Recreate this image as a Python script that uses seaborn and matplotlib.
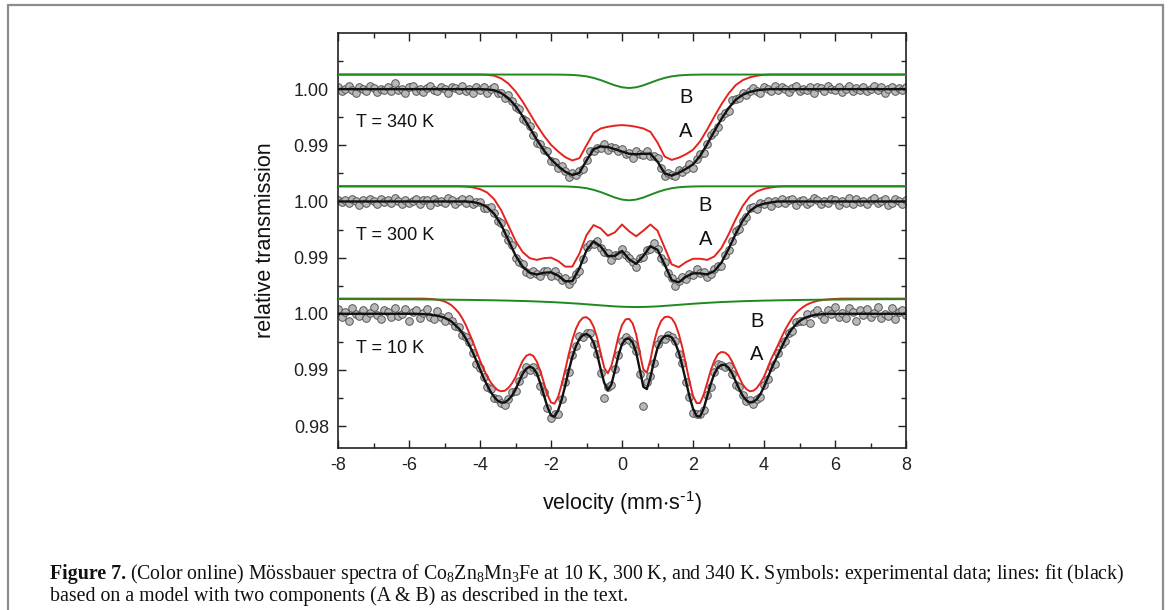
import numpy as np
import matplotlib.pyplot as plt
from matplotlib.patches import Rectangle
from matplotlib.ticker import FixedLocator, FixedFormatter, MultipleLocator
import seaborn as sns

sns.set_theme(style="ticks")
plt.rcParams['font.family'] = ['Liberation Sans', 'DejaVu Sans']
plt.rcParams['mathtext.default'] = 'regular'
plt.rcParams['axes.unicode_minus'] = False

# velocity channels (mm/s): coarse fit grid 0.2, measured points / fine grid 0.1
VEL_FIT = np.linspace(-8, 8, 81)
VEL_DATA = np.linspace(-8, 8, 161)

# all values below: deviation from 1.00 in units of 1e-3

# --- T = 340 K ---
DATA_340K = [
    0.3, -0.4, 0.1, 0.5, -0.2, -0.6, 0.4, 0.0, -0.3, 0.6, 0.2, -0.5, 0.1, -0.1, 0.4, -0.4, 1.1, -0.2, 0.0, -0.6,
    0.3, 0.5, -0.3, 0.1, -0.5, 0.2, 0.6, -0.1, -0.4, 0.3, 0.0, -0.7, 0.4, 0.2, -0.2, 0.5, -0.3, 0.1, -0.6, 0.3,
    -0.2, 0.4, -0.6, 0.1, 0.4, -0.7, -0.7, -1.5, -1.1, -2.1, -3.2, -3.6, -5.4, -5.6, -6.5, -8.1, -9.5, -9.7, -10.9, -11.1,
    -12.8, -13.0, -14.1, -13.7, -14.5, -15.6, -15.0, -15.3, -14.5, -14.2, -12.6, -11.0, -11.1, -10.4, -10.4, -9.7, -10.8, -10.3, -10.4, -11.0,
    -10.7, -11.6, -11.3, -12.2, -11.1, -11.5, -11.7, -11.1, -11.9, -11.9, -12.3, -14.1, -15.5, -15.0, -15.2, -15.5, -14.4, -14.8, -14.2, -13.4,
    -14.0, -12.5, -11.6, -11.3, -9.7, -8.1, -7.7, -6.7, -4.9, -4.3, -3.9, -2.0, -1.8, -1.6, -0.7, -1.1, -0.3, 0.2, -0.3, -0.7,
    0.3, 0.1, -0.3, 0.5, -0.2, 0.4, 0.0, -0.5, 0.2, 0.6, -0.3, 0.1, -0.1, 0.4, -0.6, 0.3, 0.2, -0.4, 0.5, 0.0,
    -0.2, 0.3, -0.5, 0.1, 0.6, -0.3, 0.2, -0.1, 0.4, -0.4, 0.0, 0.5, -0.2, 0.3, -0.6, 0.1, 0.4, -0.3, 0.2, -0.1, 0.3,
]
FIT_340K = [
    0, 0, 0, 0, 0, 0, 0, 0, 0, 0, 0, 0, 0, 0, 0, 0, 0, 0, 0, 0,
    0.0, -0.05, -0.2, -0.7, -1.6, -3.0, -4.8, -6.9, -9.0, -10.9, -12.5, -13.7, -14.7, -15.3, -14.9, -12.7, -10.7, -10.2, -10.3, -10.7,
    -11.1, -11.5, -11.6, -11.5, -11.5, -12.9, -15.0, -15.4, -14.9, -14.2, -13.4, -11.9, -9.8, -7.5, -5.3, -3.4, -1.9, -1.0, -0.5, -0.2, -0.05,
    0, 0, 0, 0, 0, 0, 0, 0, 0, 0, 0, 0, 0, 0, 0, 0, 0, 0, 0, 0,
]
COMP_A_340K = [
    2.6, 2.6, 2.6, 2.6, 2.6, 2.6, 2.6, 2.6, 2.6, 2.6, 2.6, 2.6, 2.6, 2.6, 2.6, 2.6, 2.6, 2.6, 2.6, 2.6,
    2.6, 2.55, 2.4, 1.9, 1.0, -0.4, -2.2, -4.3, -6.4, -8.3, -9.9, -11.1, -12.1, -12.7, -12.3, -10.0, -7.8, -7.0, -6.7, -6.5,
    -6.4, -6.5, -6.7, -7.0, -7.6, -9.5, -12.0, -12.6, -12.2, -11.6, -10.8, -9.3, -7.2, -4.9, -2.7, -0.8, 0.7, 1.6, 2.1, 2.4, 2.55,
    2.6, 2.6, 2.6, 2.6, 2.6, 2.6, 2.6, 2.6, 2.6, 2.6, 2.6, 2.6, 2.6, 2.6, 2.6, 2.6, 2.6, 2.6, 2.6, 2.6,
]
COMP_B_340K = [
    2.6, 2.6, 2.6, 2.6, 2.6, 2.6, 2.6, 2.6, 2.6, 2.6, 2.6, 2.6, 2.6, 2.6, 2.6, 2.6,
    2.6, 2.6, 2.6, 2.6, 2.6, 2.6, 2.6, 2.6, 2.6, 2.6, 2.6, 2.6, 2.6, 2.6, 2.6,
    2.59, 2.57, 2.53, 2.44, 2.28, 2.0, 1.61, 1.14, 0.68, 0.33, 0.2, 0.33, 0.68, 1.14, 1.61, 2.0, 2.28, 2.44, 2.53, 2.57, 2.59,
    2.6, 2.6, 2.6, 2.6, 2.6, 2.6, 2.6, 2.6, 2.6, 2.6, 2.6, 2.6, 2.6, 2.6, 2.6,
    2.6, 2.6, 2.6, 2.6, 2.6, 2.6, 2.6, 2.6, 2.6, 2.6, 2.6, 2.6, 2.6, 2.6,
]

# --- T = 300 K ---
DATA_300K = [
    0.3, -0.1, 0.2, -0.3, 0.4, 0.1, -0.6, 0.3, -0.2, 0.5, 0.0, -0.4, 0.4, -0.1, 0.2, -0.3, 0.6, 0.1, -0.5, 0.3,
    -0.2, 0.0, 0.5, -0.4, 0.2, 0.3, -0.6, 0.4, -0.1, 0.1, -0.3, 0.6, 0.2, -0.5, 0.0, 0.4,
    -0.2, 0.4, -0.4, -0.1, -0.1, -1.2, -1.1, -1.0, -2.0, -3.5, -3.9, -5.7, -6.8, -7.7, -10.1, -10.7, -11.2, -12.5, -12.9, -12.4,
    -12.9, -13.3, -12.4, -12.4,
    -13.2, -12.4, -13.2, -13.9, -13.7, -14.7, -14.0, -13.0, -12.4, -10.3, -8.1, -7.6, -7.5, -7.0, -8.2, -9.0, -9.2, -10.5, -9.5, -9.5,
    -8.4, -9.5, -10.0, -10.7, -11.6, -10.1, -9.9, -8.7, -8.4, -7.4, -8.5, -10.0, -10.8, -12.8, -13.7, -15.1, -14.2, -13.4, -13.8, -12.9,
    -13.1, -12.1, -12.8, -12.6, -13.5, -12.9, -12.0, -11.5, -11.5, -9.5, -8.7, -7.1, -5.3, -4.9, -3.4, -2.8, -1.1, -1.0, -1.3, -0.2,
    -0.5, 0.1, -0.8, 0.0,
    -0.3, 0.5, -0.2, 0.2, 0.4, -0.7, 0.0, 0.3, -0.4, -0.1, 0.6, 0.2, -0.5, 0.1, -0.3, 0.5, 0.3, -0.6, 0.0, -0.2,
    0.7, -0.4, 0.4, -0.1, 0.1, -0.5, 0.2, 0.6, -0.3, 0.0, 0.4, -0.6, -0.2, 0.5, 0.1, -0.4, 0.3,
]
FIT_300K = [
    0, 0, 0, 0, 0, 0, 0, 0, 0, 0, 0, 0, 0, 0, 0, 0, 0, 0,
    0.0, -0.1, -0.4, -1.0, -2.2, -4.2, -6.9, -9.6, -11.6, -12.7, -13.0, -12.7, -12.6, -13.2, -14.2, -14.2, -11.9, -8.7, -7.1, -8.0,
    -9.7, -9.7, -8.8, -10.3, -11.1, -9.7, -8.0, -8.6, -11.2, -14.0, -14.4, -13.4, -12.8, -12.8, -13.0, -12.4, -10.9, -8.5, -5.8, -3.4,
    -1.7, -0.8, -0.4, -0.15, 0.0,
    0, 0, 0, 0, 0, 0, 0, 0, 0, 0, 0, 0, 0, 0, 0, 0, 0, 0,
]
COMP_A_300K = [
    2.7, 2.7, 2.7, 2.7, 2.7, 2.7, 2.7, 2.7, 2.7, 2.7, 2.7, 2.7, 2.7, 2.7, 2.7, 2.7, 2.7, 2.7,
    2.65, 2.5, 2.2, 1.6, 0.4, -1.6, -4.3, -7.0, -9.0, -10.1, -10.4, -10.1, -10.0, -10.6, -11.6, -11.6, -9.3, -6.0, -4.2, -4.8,
    -6.1, -5.5, -4.1, -5.3, -6.2, -5.2, -4.1, -5.2, -8.2, -11.2, -11.7, -10.8, -10.2, -10.2, -10.4, -9.8, -8.3, -5.9, -3.2, -0.8,
    0.9, 1.8, 2.25, 2.5, 2.65,
    2.7, 2.7, 2.7, 2.7, 2.7, 2.7, 2.7, 2.7, 2.7, 2.7, 2.7, 2.7, 2.7, 2.7, 2.7, 2.7, 2.7, 2.7,
]
COMP_B_300K = [
    2.7, 2.7, 2.7, 2.7, 2.7, 2.7, 2.7, 2.7, 2.7, 2.7, 2.7, 2.7, 2.7, 2.7, 2.7, 2.7,
    2.7, 2.7, 2.7, 2.7, 2.7, 2.7, 2.7, 2.7, 2.7, 2.7, 2.7, 2.7, 2.7, 2.7, 2.7,
    2.69, 2.67, 2.62, 2.53, 2.36, 2.07, 1.67, 1.19, 0.7, 0.34, 0.2, 0.34, 0.7, 1.19, 1.67, 2.07, 2.36, 2.53, 2.62, 2.67, 2.69,
    2.7, 2.7, 2.7, 2.7, 2.7, 2.7, 2.7, 2.7, 2.7, 2.7, 2.7, 2.7, 2.7, 2.7, 2.7,
    2.7, 2.7, 2.7, 2.7, 2.7, 2.7, 2.7, 2.7, 2.7, 2.7, 2.7, 2.7, 2.7, 2.7,
]

# --- T = 10 K (fit and component A on the fine 0.1 grid) ---
DATA_10K = [
    0.8, -0.6, 0.4, -1.2, 1.0, 0.0, -0.4, 0.6, -0.8, 0.2, 1.2, -0.2, -1.0, 0.6, 0.4, -0.6, 1.0, -0.4, 0.0, 0.8,
    -1.2, 0.4, 0.6, -0.8, 0.2, 0.9, -0.6, -0.9, 0.5, -0.5,
    -1.2, -0.4, -1.3, -2.2, -2.3, -3.8, -4.2, -5.1, -7.0, -9.0, -9.6, -11.3, -13.0, -13.4, -15.0, -15.1, -15.8, -16.3, -15.1, -14.0,
    -13.8, -12.0, -10.8, -9.4, -10.0, -9.4, -10.4, -12.9, -13.9, -16.8, -18.5, -17.9, -17.8, -15.2, -12.2, -10.3, -7.4, -5.7, -3.9, -4.1,
    -3.5, -3.5, -5.3, -7.2, -10.6, -15.0, -13.1, -12.6, -9.8, -7.4, -4.9, -4.2, -4.7, -5.3, -6.6, -10.8, -16.4, -12.2, -11.0, -8.7,
    -5.4, -4.5, -4.5, -3.8, -4.2, -4.8, -7.2, -8.7, -12.2, -14.8, -17.6, -17.9, -17.9, -17.2, -14.5, -13.0, -10.4, -9.0, -9.1, -9.5,
    -9.3, -10.7, -12.7, -13.0, -14.4, -15.6, -15.3, -16.0, -15.1, -14.9, -12.7, -11.6, -9.4, -8.9, -7.0, -5.3, -4.9, -3.5, -3.0, -1.4,
    -1.2,
    -1.3, 0.0, -1.6, 0.2, 0.6, -0.3, -1.0, 0.6, 0.0, 1.2, -0.6, 0.2, -0.8, 1.0, 0.4, -1.2, 0.6, -0.2, 0.8, -0.6,
    0.2, 1.2, -0.8, 0.0, -0.4, 1.0, -1.0, 0.4, 0.6, -0.2,
]
FIT_10K = [
    0, 0, 0, 0, 0, 0, 0, 0, 0, 0, 0, 0, 0, 0, 0, 0, 0, 0, 0, 0, 0, 0,
    0.0, -0.03, -0.05, -0.1, -0.15, -0.25, -0.35, -0.5, -0.7, -1.0, -1.4, -2.0, -2.6, -3.4, -4.4, -5.6, -6.9, -8.4,
    -9.9, -11.4, -12.7, -13.9, -14.8, -15.5, -15.8, -15.8, -15.3, -14.6, -13.5, -12.1, -10.7, -9.8, -9.4, -9.7, -10.6, -12.4,
    -14.5, -16.6, -18.1, -18.3, -17.2, -15.3, -12.8, -10.1, -7.7, -5.8, -4.5, -3.8, -3.6, -4.0, -5.1, -7.2, -9.9, -12.3,
    -13.6, -12.6, -10.1, -7.4, -5.4, -4.5, -4.4, -5.1, -6.9, -9.9, -13.0, -13.4, -11.3, -8.5, -6.1, -4.7, -4.0, -3.9,
    -4.2, -5.2, -6.9, -9.3, -12.0, -14.7, -16.9, -18.2, -18.3, -16.9, -14.7, -12.5, -10.7, -9.6, -9.1, -9.1, -9.6, -10.6,
    -12.0, -13.4, -14.6, -15.4, -15.8, -15.7, -15.2, -14.3, -13.0, -11.5, -9.9, -8.5, -7.2, -5.9, -4.6, -3.5, -2.6, -1.9,
    -1.3, -0.9, -0.6, -0.4, -0.25, -0.15, -0.1, -0.05,
    0, 0, 0, 0, 0, 0, 0, 0, 0, 0, 0, 0, 0, 0, 0, 0, 0, 0, 0, 0, 0, 0, 0,
]
COMP_A_10K = [
    2.7, 2.7, 2.7, 2.7, 2.7, 2.7, 2.7, 2.7, 2.7, 2.7, 2.7, 2.7, 2.7, 2.7, 2.7, 2.7, 2.7, 2.7, 2.7, 2.7, 2.7, 2.7,
    2.7, 2.7, 2.7, 2.68, 2.65, 2.59, 2.5, 2.38, 2.2, 1.9, 1.5, 0.9, 0.2, -0.8, -2.0, -3.5, -5.0, -6.7,
    -8.3, -9.8, -11.1, -12.2, -13.0, -13.6, -13.8, -13.7, -13.2, -12.4, -11.3, -9.8, -8.4, -7.5, -7.2, -7.5, -8.5, -10.2,
    -12.3, -14.4, -15.8, -16.0, -14.8, -12.6, -10.0, -7.2, -4.7, -2.7, -1.4, -0.7, -0.6, -1.1, -2.3, -4.3, -7.0, -9.6,
    -10.6, -9.3, -6.8, -4.0, -2.0, -1.0, -0.9, -1.7, -3.7, -6.9, -9.9, -10.5, -8.2, -5.1, -2.8, -1.3, -0.6, -0.5,
    -0.8, -1.8, -3.6, -6.0, -9.0, -12.0, -14.6, -15.9, -15.9, -14.4, -12.3, -10.1, -8.4, -7.2, -6.8, -6.9, -7.4, -8.5,
    -9.9, -11.3, -12.6, -13.4, -13.8, -13.7, -13.2, -12.3, -11.2, -9.7, -8.1, -6.8, -5.5, -4.1, -2.8, -1.7, -0.7, 0.1,
    0.7, 1.2, 1.6, 1.9, 2.1, 2.3, 2.4, 2.5, 2.55, 2.62, 2.65, 2.68,
    2.7, 2.7, 2.7, 2.7, 2.7, 2.7, 2.7, 2.7, 2.7, 2.7, 2.7, 2.7, 2.7, 2.7, 2.7, 2.7, 2.7, 2.7, 2.7,
]
COMP_B_10K = [
    2.62, 2.62, 2.61, 2.61, 2.6, 2.6, 2.59, 2.59, 2.58, 2.57, 2.57, 2.56, 2.55, 2.54, 2.53, 2.52, 2.51, 2.49, 2.48, 2.46,
    2.44, 2.42, 2.4, 2.37, 2.35, 2.31, 2.28, 2.24, 2.19, 2.14, 2.09, 2.02, 1.95, 1.87, 1.79, 1.69, 1.6, 1.5, 1.41, 1.32,
    1.26, 1.22, 1.2, 1.22, 1.26, 1.32, 1.41, 1.5, 1.6, 1.69, 1.79, 1.87, 1.95, 2.02, 2.09, 2.14, 2.19, 2.24, 2.28, 2.31,
    2.35, 2.37, 2.4, 2.42, 2.44, 2.46, 2.48, 2.49, 2.51, 2.52, 2.53, 2.54, 2.55, 2.56, 2.57, 2.57, 2.58, 2.59, 2.59, 2.6,
    2.6,
]

TEMPS = ["340 K", "300 K", "10 K"]
OFFSETS = [0.04, 0.02, 0.0]
# (data, fit, fit grid, component A, A grid, component B)
SPECTRA = [
    (DATA_340K, FIT_340K, VEL_FIT, COMP_A_340K, VEL_FIT, COMP_B_340K),
    (DATA_300K, FIT_300K, VEL_FIT, COMP_A_300K, VEL_FIT, COMP_B_300K),
    (DATA_10K, FIT_10K, VEL_DATA, COMP_A_10K, VEL_DATA, COMP_B_10K),
]
Y_TICKS = [0.98, 0.99, 1.00, 1.01, 1.02, 1.03, 1.04]
Y_TICK_LABELS = ["0.98", "0.99", "1.00", "0.99", "1.00", "0.99", "1.00"]

# label positions (data coords)
T_LABEL_POS = [(-7.5, 1.0341), (-7.5, 1.0139), (-7.5, 0.99375)]
B_LABEL_POS = [(1.8, 1.0386), (2.35, 1.0193), (3.8, 0.9986)]
A_LABEL_POS = [(1.8, 1.0324), (2.35, 1.0132), (3.8, 0.9928)]

RED = '#e5231e'
GREEN = '#1d8a1d'


def to_trans(vals, off):
    return 1.0 + np.asarray(vals, dtype=float) / 1000.0 + off


fig = plt.figure(figsize=(11.7, 6.1), dpi=100)
ax = fig.add_axes([338 / 1170, 1 - 448 / 610, 568 / 1170, 415 / 610])

for (data, fit, vfit, comp_a, va, comp_b), off in zip(SPECTRA, OFFSETS):
    sns.scatterplot(x=VEL_DATA, y=to_trans(data, off), ax=ax, marker='o', s=30,
                    color='#b8b8b8', edgecolor='#555555', linewidth=0.7,
                    zorder=2, legend=False)
    sns.lineplot(x=vfit, y=to_trans(fit, off), ax=ax, color='#111111',
                 linewidth=1.7, estimator=None, sort=False, zorder=3)
    sns.lineplot(x=va, y=to_trans(comp_a, off), ax=ax, color=RED,
                 linewidth=1.4, estimator=None, sort=False, zorder=4)
    sns.lineplot(x=VEL_FIT, y=to_trans(comp_b, off), ax=ax, color=GREEN,
                 linewidth=1.4, estimator=None, sort=False, zorder=5)

for temp, (tx, ty) in zip(TEMPS, T_LABEL_POS):
    ax.text(tx, ty, f"T = {temp}", fontsize=13, ha='left', va='center', color='#111111')
for (bx, by), (axx, ayy) in zip(B_LABEL_POS, A_LABEL_POS):
    ax.text(bx, by, "B", fontsize=14.5, ha='center', va='center', color='#111111')
    ax.text(axx, ayy, "A", fontsize=14.5, ha='center', va='center', color='#111111')

ax.set_xlim(-8, 8)
ax.set_ylim(0.9761, 1.05)
ax.xaxis.set_major_locator(MultipleLocator(2))
ax.xaxis.set_minor_locator(MultipleLocator(1))
ax.yaxis.set_major_locator(FixedLocator(Y_TICKS))
ax.yaxis.set_major_formatter(FixedFormatter(Y_TICK_LABELS))
ax.yaxis.set_minor_locator(FixedLocator([t + 0.005 for t in Y_TICKS]))
ax.tick_params(which='both', direction='in', top=True, right=True,
               colors='#222222', labelsize=13, width=1.0)
ax.tick_params(which='major', length=6, pad=6.5)
ax.tick_params(which='minor', length=3.5)
for sp in ax.spines.values():
    sp.set_color('#222222')
    sp.set_linewidth(1.2)

ax.set_xlabel(r"velocity (mm$\cdot$s$^{\text{-}1}$)", fontsize=15.5, labelpad=11, color='#111111')
ax.set_ylabel("relative transmission", fontsize=15.5, labelpad=13, color='#111111')

# page frame around figure + caption
fig.patches.append(Rectangle((8 / 1170, -0.1), (1163 - 8) / 1170, 1.1 - 5 / 610,
                             transform=fig.transFigure, fill=False,
                             edgecolor='#8c8c8c', linewidth=1.6))

serif = ['Liberation Serif', 'DejaVu Serif']
cap_size = 14.3
y1 = 1 - 579 / 610
y2 = 1 - 601 / 610
t1 = fig.text(50 / 1170, y1, "Figure 7.", family=serif, fontweight='bold',
              fontsize=cap_size, va='baseline', ha='left', color='#111111')
fig.canvas.draw()
bb = t1.get_window_extent()
fig.text((bb.x1 + 4) / fig.bbox.width, y1,
         r"(Color online) Mössbauer spectra of Co$_8$Zn$_8$Mn$_3$Fe at 10 K, 300 K, and 340 K. "
         r"Symbols: experimental data; lines: fit (black)",
         family=serif, fontsize=cap_size, va='baseline', ha='left', color='#111111')
fig.text(50 / 1170, y2,
         "based on a model with two components (A & B) as described in the text.",
         family=serif, fontsize=cap_size, va='baseline', ha='left', color='#111111')

fig.savefig("out.png", dpi=100)
